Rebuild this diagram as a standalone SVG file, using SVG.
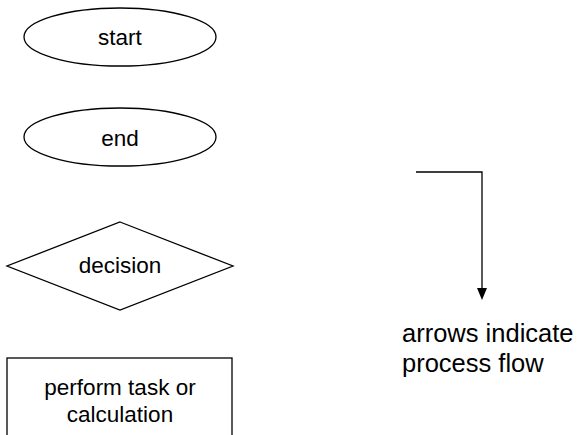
<svg xmlns="http://www.w3.org/2000/svg" width="578" height="435" viewBox="0 0 578 435">
<style>
.s{fill:#fff;stroke:#000;stroke-width:1.3}
.t{font-family:"Liberation Sans",Arial,sans-serif;font-size:22.5px;fill:#000;text-anchor:middle}
.l{font-family:"Liberation Sans",Arial,sans-serif;font-size:25.5px;fill:#000}
.c{fill:none;stroke:#000;stroke-width:1.3}
</style>
<rect width="578" height="435" fill="#fff"/>
<g id="start"><ellipse class="s" cx="120" cy="37" rx="96" ry="29"/><text class="t" x="120" y="45">start</text></g>
<g id="end"><ellipse class="s" cx="120" cy="137" rx="96" ry="29"/><text class="t" x="120" y="146">end</text></g>
<g id="decision"><polygon class="s" points="120,222 233,266 120,310 7,266"/><text class="t" x="120" y="273">decision</text></g>
<g id="task"><rect class="s" x="7" y="358" width="225" height="90"/><text class="t" x="120" y="395">perform task or</text><text class="t" x="120" y="422">calculation</text></g>
<g id="connectors"><path class="c" d="M416,172 H482 V288"/><path d="M477,288 L487,288 L482,300 Z" fill="#000"/></g>
<g id="legend"><text class="l" x="402" y="342">arrows indicate</text><text class="l" x="402" y="372">process flow</text></g>
</svg>
